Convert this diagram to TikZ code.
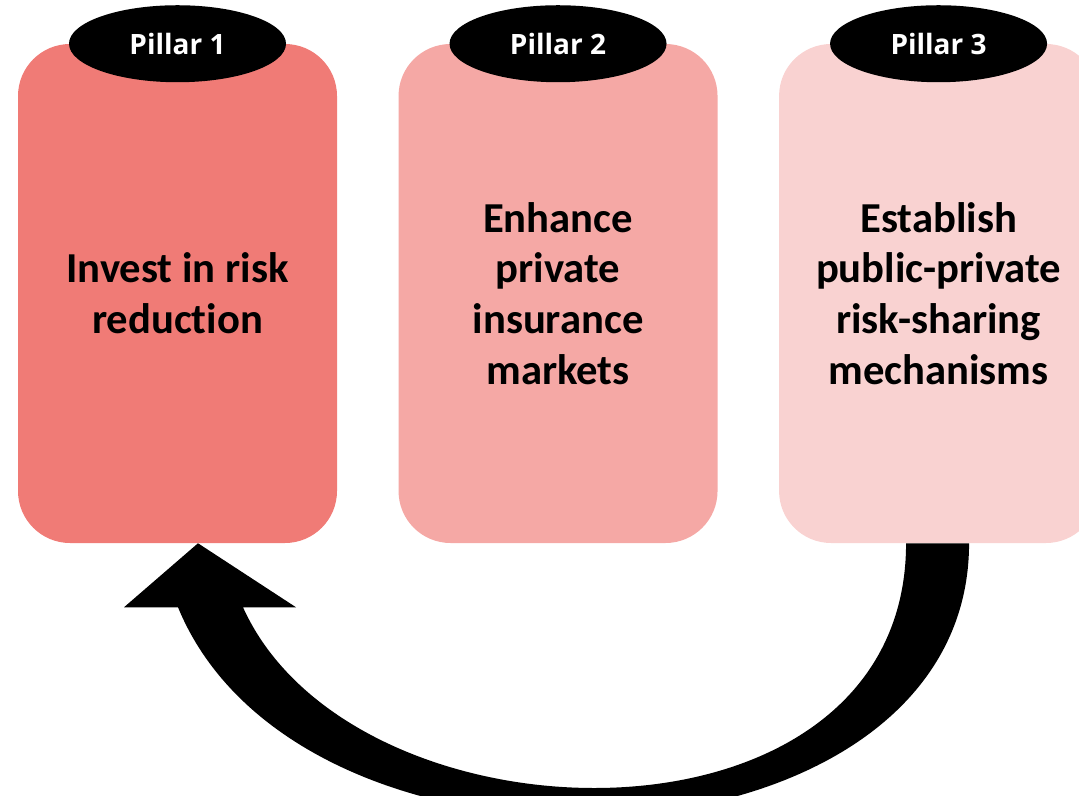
\documentclass[tikz,border=0pt]{standalone}
\usepackage{fontspec}
\setmainfont{Carlito}[Ligatures=CommonOff]
\newfontfamily\pillarfont{Open Sans}
\usetikzlibrary{positioning}
\usetikzlibrary{calc}
\usetikzlibrary{shapes}
\definecolor{pillarA}{RGB}{240,123,118}
\definecolor{pillarB}{RGB}{245,168,165}
\definecolor{pillarC}{RGB}{249,210,209}

\begin{document}
\begin{tikzpicture}[
	x=0.75pt,y=-0.75pt,
	pillar/.style={rounded corners=39pt,minimum width=239.25pt,minimum height=374.25pt,
		inner sep=0pt,align=center,font=\fontsize{32}{38}\selectfont\bfseries},
	tag/.style={ellipse,fill=black,text=white,minimum width=162.75pt,minimum height=57.75pt,
		inner sep=0pt,font=\pillarfont\fontsize{21}{26}\selectfont\bfseries}
]

	% definitions
	\def\gap{45.75pt}
	\useasboundingbox (0,0) rectangle (1079,796);
	
	\begin{scope}
	\clip (0,0) rectangle (1079,796);

	% pillars
	\node[pillar,fill=pillarA] (p1) at (177.5,293.5) {Invest in risk\\reduction};
	\node[pillar,fill=pillarB,right=\gap of p1] (p2) {Enhance\\private\\insurance\\markets};
	\node[pillar,fill=pillarC,right=\gap of p2] (p3) {Establish\\public-private\\risk-sharing\\mechanisms};
	
	% tags
	\node[tag] (t1) at (p1.north) {Pillar 1};
	\node[tag] (t2) at (p2.north) {Pillar 2};
	\node[tag] (t3) at (p3.north) {Pillar 3};
	
	% curved arrow from pillar 3 back to pillar 1
	\coordinate (tip) at ($(p1.south)+(20.5,0)$);
	\coordinate (hr) at ($(p1.south)+(118.5,64)$);
	\coordinate (sr) at ($(p1.south)+(65.5,64)$);
	\coordinate (sl) at ($(p1.south)+(0.5,64)$);
	\coordinate (hl) at ($(p1.south)+(-53.5,64)$);
	\coordinate (ir) at ($(p3.south)+(-32.5,0)$);
	\coordinate (or) at ($(p3.south)+(30.5,0)$);
	
	\fill[black] (tip) -- (hr) -- (sr)
		.. controls ($(p1.south)+(176.5,310)$) and ($(p3.south)+(-32.5,320)$) .. (ir)
		-- (or)
		.. controls ($(p3.south)+(30.5,337)$) and ($(p1.south)+(125.5,368)$) .. (sl)
		-- (hl) -- cycle;
	
	\end{scope}
	
\end{tikzpicture}
\end{document}
